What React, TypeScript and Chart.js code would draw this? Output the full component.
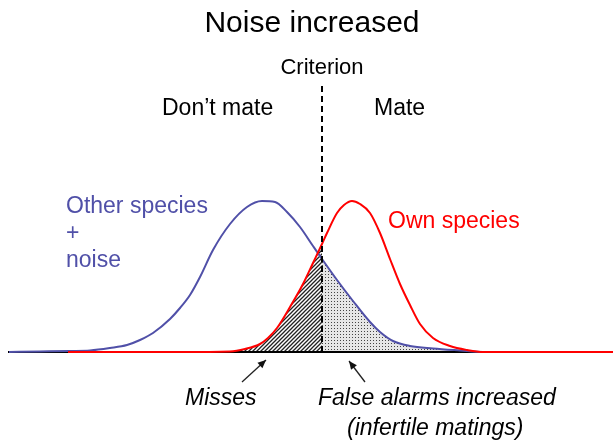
import React, { useEffect, useRef } from "react";
import { Chart, registerables } from "chart.js";

Chart.register(...registerables);

// Curve samples (x in picture units, y = height above baseline)
const blueX = [9, 40, 70, 90, 110, 127, 140, 153, 170, 180, 190, 200, 213, 230, 247, 262, 275, 287, 300, 313, 322, 337, 353, 370, 380, 393, 410, 433, 460, 483, 613];
const blueY = [0, 0.5, 1, 1.5, 4, 7, 12, 19, 33, 44, 57, 75, 102, 128, 145, 151, 150, 140, 125, 106, 93, 72, 51, 30, 20, 11, 6, 3.5, 1.5, 0, 0];

const redX = [68, 180, 230, 245, 260, 268, 277, 290, 303, 313, 322, 327, 337, 344, 352, 360, 370, 380, 390, 400, 410, 420, 433, 450, 467, 483, 613];
const redY = [0, 0, 0.5, 3, 8, 14, 24, 45, 68, 89, 108, 119, 139, 147, 151, 148, 139, 119, 93, 68, 47, 28, 14, 6, 2, 0, 0];

const criterionX = 322;
const criterionTop = 270;
const missesRange = [230, 322];
const falseAlarmRange = [322, 483];

const BLUE = "rgb(80,80,168)";
const RED = "rgb(255,0,0)";

function toPts(xs: number[], ys: number[]) {
  return xs.map((x, i) => ({ x, y: ys[i] }));
}

function hatchPattern(): CanvasPattern | string {
  const c = document.createElement("canvas");
  c.width = 4;
  c.height = 4;
  const g = c.getContext("2d")!;
  g.fillStyle = "#ffffff";
  g.fillRect(0, 0, 4, 4);
  g.strokeStyle = "#222";
  g.lineWidth = 1.3;
  g.beginPath();
  g.moveTo(0, 4);
  g.lineTo(4, 0);
  g.moveTo(-1, 1);
  g.lineTo(1, -1);
  g.moveTo(3, 5);
  g.lineTo(5, 3);
  g.stroke();
  return g.createPattern(c, "repeat") || "#666";
}

function dotPattern(): CanvasPattern | string {
  const c = document.createElement("canvas");
  c.width = 3;
  c.height = 3;
  const g = c.getContext("2d")!;
  g.fillStyle = "#e6e6e6";
  g.fillRect(0, 0, 3, 3);
  g.fillStyle = "#444";
  g.fillRect(1, 1, 1, 1);
  return g.createPattern(c, "repeat") || "#ddd";
}

function arrow(ctx: CanvasRenderingContext2D, x1: number, y1: number, x2: number, y2: number) {
  ctx.save();
  ctx.strokeStyle = "#222";
  ctx.fillStyle = "#111";
  ctx.lineWidth = 1.3;
  ctx.beginPath();
  ctx.moveTo(x1, y1);
  ctx.lineTo(x2, y2);
  ctx.stroke();
  const a = Math.atan2(y2 - y1, x2 - x1);
  const L = 9;
  const w = 0.42;
  ctx.beginPath();
  ctx.moveTo(x2, y2);
  ctx.lineTo(x2 - L * Math.cos(a - w), y2 - L * Math.sin(a - w));
  ctx.lineTo(x2 - L * Math.cos(a + w), y2 - L * Math.sin(a + w));
  ctx.closePath();
  ctx.fill();
  ctx.restore();
}

const labelsPlugin = {
  id: "labels",
  afterDraw(chart: any) {
    const ctx: CanvasRenderingContext2D = chart.ctx;
    const F = '"Liberation Sans", Arial, sans-serif';
    ctx.save();
    ctx.textBaseline = "alphabetic";
    ctx.fillStyle = "#000";
    ctx.font = `30px ${F}`;
    ctx.textAlign = "center";
    ctx.fillText("Noise increased", 312, 32);
    ctx.font = `22px ${F}`;
    ctx.fillText("Criterion", 322, 74);
    ctx.textAlign = "left";
    ctx.font = `23px ${F}`;
    ctx.fillText("Don\u2019t mate", 162, 115);
    ctx.fillText("Mate", 374, 115);
    ctx.fillStyle = BLUE;
    ctx.fillText("Other species", 66, 213);
    ctx.fillText("+", 66, 240);
    ctx.fillText("noise", 66, 267);
    ctx.fillStyle = RED;
    ctx.fillText("Own species", 388, 228);
    ctx.fillStyle = "#000";
    ctx.font = `italic 23px ${F}`;
    ctx.fillText("Misses", 185, 405);
    ctx.fillText("False alarms increased", 318, 405);
    ctx.fillText("(infertile matings)", 347, 435);
    ctx.restore();
    arrow(ctx, 242, 382, 266, 360);
    arrow(ctx, 365, 382, 349, 361);
  },
};

export default function App() {
  const ref = useRef<HTMLCanvasElement>(null);
  useEffect(() => {
    if (!ref.current) return;
    const blue = toPts(blueX, blueY);
    const red = toPts(redX, redY);
    const misses = red.filter((p) => p.x >= missesRange[0] && p.x <= missesRange[1]);
    const falseAlarms = blue.filter((p) => p.x >= falseAlarmRange[0] && p.x <= falseAlarmRange[1]);
    const chart = new Chart(ref.current, {
      type: "line",
      data: {
        datasets: [
          {
            label: "Criterion",
            data: [
              { x: criterionX, y: 0 },
              { x: criterionX, y: criterionTop },
            ],
            borderColor: "#000",
            borderWidth: 2,
            borderDash: [6, 4],
            pointRadius: 0,
            fill: false,
            order: 0,
          },
          {
            label: "Own species",
            data: red,
            borderColor: RED,
            borderWidth: 2,
            pointRadius: 0,
            cubicInterpolationMode: "monotone",
            fill: false,
            order: 1,
          },
          {
            label: "Other species + noise",
            data: blue,
            borderColor: BLUE,
            borderWidth: 2,
            pointRadius: 0,
            cubicInterpolationMode: "monotone",
            fill: false,
            order: 2,
          },
          {
            label: "Baseline",
            data: [
              { x: 8, y: 0 },
              { x: 613, y: 0 },
            ],
            borderColor: "#000",
            borderWidth: 2,
            pointRadius: 0,
            fill: false,
            order: 3,
          },
          {
            label: "Misses",
            data: misses,
            borderWidth: 0,
            borderColor: "rgba(0,0,0,0)",
            backgroundColor: hatchPattern() as any,
            pointRadius: 0,
            cubicInterpolationMode: "monotone",
            fill: "origin",
            order: 4,
          },
          {
            label: "False alarms",
            data: falseAlarms,
            borderWidth: 0,
            borderColor: "rgba(0,0,0,0)",
            backgroundColor: dotPattern() as any,
            pointRadius: 0,
            cubicInterpolationMode: "monotone",
            fill: "origin",
            order: 5,
          },
        ],
      },
      options: {
        animation: false,
        responsive: false,
        events: [],
        layout: { padding: 0 },
        plugins: {
          legend: { display: false },
          tooltip: { enabled: false },
          title: { display: false },
        },
        scales: {
          x: { type: "linear", min: 0, max: 613, display: false },
          y: { type: "linear", min: -88, max: 352, display: false },
        },
      },
      plugins: [labelsPlugin],
    });
    return () => chart.destroy();
  }, []);
  return (
    <div style={{ position: "absolute", left: 0, top: 0, width: 613, height: 440, background: "#fff" }}>
      <canvas ref={ref} width={613} height={440} />
    </div>
  );
}
